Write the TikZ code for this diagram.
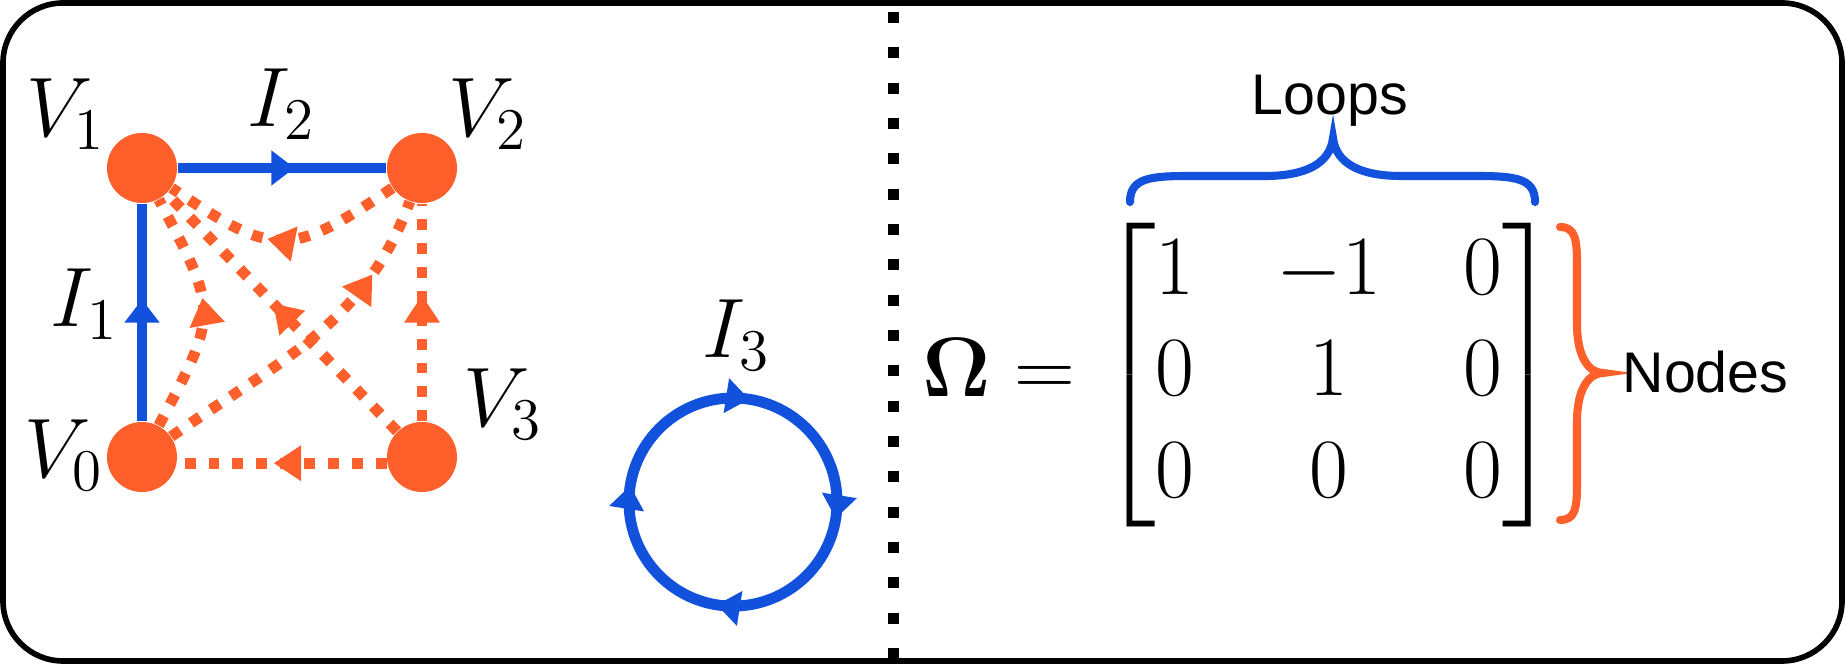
\documentclass[tikz,border=0pt]{standalone}
\usepackage{amsmath}
\usepackage{amssymb}
\usepackage{fix-cm}
\usepackage[no-math]{fontspec}
\newfontfamily\helv{Liberation Sans}
\usetikzlibrary{arrows.meta,decorations.markings}
\definecolor{netorange}{HTML}{FF5F2B}
\definecolor{netblue}{HTML}{1151DC}
\tikzset{
  vertex/.style={circle,fill=netorange,inner sep=0pt,minimum size=0.7cm},
  branch/.style={draw,color=netblue,line width=3.1pt},
  chord/.style={draw,color=netorange,line width=3.1pt,dash pattern=on 3.1pt off 3.7pt},
  blueflow/.style={postaction={decorate},decoration={markings,mark=at position #1 with {\arrow{Triangle[length=6.6pt,width=9.6pt]}}}},
  orangeflow/.style={postaction={decorate},decoration={markings,mark=at position #1 with {\arrow{Triangle[length=7.8pt,width=9.6pt]}}}},
  lbl/.style={anchor=base west,inner sep=0pt},
  bracket/.style={line width=2.3pt,line cap=round},
  divider/.style={line width=3.1pt,dash pattern=on 3.1pt off 6.95pt}
}

\begin{document}
\begin{tikzpicture}[x=0.01cm,y=0.01cm,font=\fontsize{24}{28.8}\selectfont]
        \useasboundingbox (0,0) rectangle (1845,664);
        \draw[line width=1.6pt,rounded corners=0.6cm] (3,3) rectangle (1842,661);
        % network
        \node[vertex] (V0) at (142,207) {};
        \node[vertex] (V1) at (142,496) {};
        \node[vertex] (V2) at (422,496) {};
        \node[vertex] (V3) at (422,207) {};
        \node[lbl] (V0lbl) at (24,186) {$V_0$};
        \node[lbl] (V1lbl) at (26,527) {$V_1$};
        \node[lbl] (V2lbl) at (448,527) {$V_2$};
        \node[lbl] (V3lbl) at (463,237) {$V_3$};
        \node[lbl] (I1lbl) at (50,337) {$I_1$};
        \node[lbl] (I2lbl) at (247,537) {$I_2$};
        \draw[branch,blueflow=0.56] (V0) -- (V1);
        \draw[branch,blueflow=0.56] (V1) -- (V2);
        \draw[chord,orangeflow=0.54] (V3.190) -- (V0.-10);
        \draw[chord,orangeflow=0.58] (V3) -- (V2);
        \draw[chord,orangeflow=0.54] (V3) -- (V1);
        \draw[chord,orangeflow=0.56] (V2) to[bend left=34,looseness=1.45] (V1);
        \draw[chord,orangeflow=0.56] (V0) to[bend right=28,looseness=1.45] (V1);
        \draw[chord,orangeflow=0.76] (V0) to[out=35,in=250] (V2);
        % loop
        \node[lbl] (I3lbl) at (702,306) {$I_3$};
        \draw[branch,postaction={decorate},decoration={markings,mark=between positions 0.025 and 1 step 0.25 with {\arrow{Triangle[length=6.6pt,width=9.6pt]}}}]
          (733,266) arc[start angle=90,end angle=-270,radius=1.04cm];
        \draw[divider] (893.5,652) -- (893.5,3);
        % loop matrix
        \node[lbl] (omega) at (922,267) {$\mathbf{\Omega} =$};
        \node[anchor=west,inner sep=0pt] (mat) at (1099,288.5) {\setlength{\arraycolsep}{11.7pt}$\begin{bmatrix} 1 & -1 & 0\\ 0 & 1 & 0\\ 0 & 0 & 0 \end{bmatrix}$};
        \draw[bracket,netblue] (1130,462) .. controls (1130,486) and (1150,488) .. (1190,488) -- (1265,488)
          .. controls (1305,488) and (1330,500) .. (1333,526) .. controls (1336,500) and (1361,488) .. (1401,488)
          -- (1475,488) .. controls (1515,488) and (1535,486) .. (1535,462);
        \draw[bracket,netorange] (1560,437) .. controls (1575,437) and (1577,425) .. (1577,400) -- (1577,340)
          .. controls (1577,305) and (1590,291) .. (1603,291) .. controls (1590,291) and (1577,277) .. (1577,242)
          -- (1577,180) .. controls (1577,155) and (1575,144) .. (1560,144);
        \node[lbl,font=\helv\fontsize{16.3}{19}\selectfont] (loops) at (1251,549) {Loops};
        \node[lbl,font=\helv\fontsize{16.3}{19}\selectfont] (nodes) at (1622,271) {Nodes};
\end{tikzpicture}
\end{document}
